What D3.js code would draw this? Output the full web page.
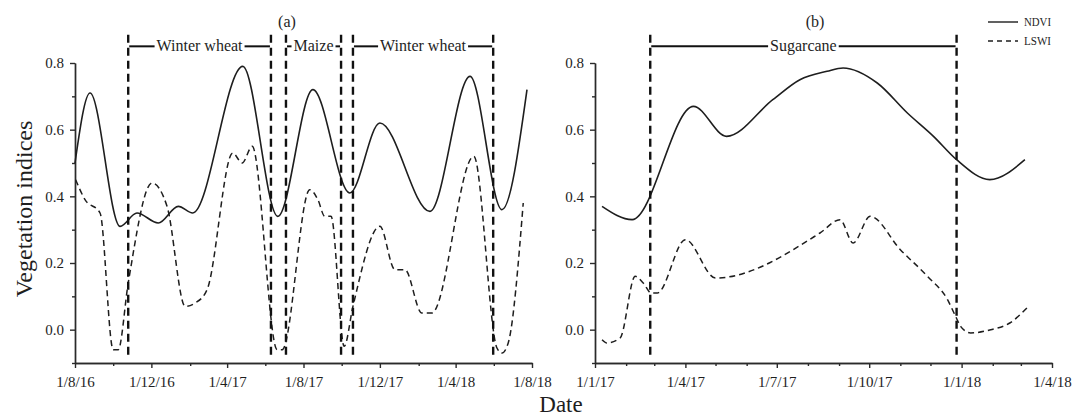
<!DOCTYPE html>
<html>
<head>
<meta charset="utf-8">
<script src="https://cdn.jsdelivr.net/npm/d3@7"></script>
<style>
  body { margin: 0; background: #fff; }
  text { font-family: "Liberation Serif", "Times New Roman", serif; fill: #1e1e1e; }
</style>
</head>
<body>
<div id="chart"></div>
<script>
// values (dates are yyyy-mm-dd)
// panel (a): winter wheat / maize rotation
const ndviADates = ["2016-08-01","2016-08-25","2016-10-12","2016-11-08","2016-12-12","2017-01-13","2017-02-05",
  "2017-04-26","2017-06-21","2017-08-16","2017-10-14","2017-12-01","2018-02-19","2018-04-24","2018-06-14","2018-07-24"];
const ndviAValues = [0.50,0.71,0.31,0.35,0.32,0.37,0.35,0.79,0.34,0.72,0.41,0.62,0.355,0.76,0.36,0.72];

const lswiADates = ["2016-08-02","2016-08-17","2016-09-10","2016-10-01","2016-10-09","2016-10-25","2016-12-02",
  "2016-12-26","2017-01-24","2017-02-09","2017-02-28","2017-04-10","2017-04-25","2017-05-11","2017-06-20",
  "2017-06-28","2017-08-11","2017-08-24","2017-09-04","2017-09-14","2017-10-05","2017-10-19","2017-12-01",
  "2017-12-25","2018-01-10","2018-02-06","2018-02-22","2018-04-30","2018-06-06","2018-06-14","2018-06-24","2018-07-18"];
const lswiAValues = [0.45,0.39,0.35,-0.06,-0.06,0.14,0.44,0.37,0.07,0.08,0.12,0.53,0.50,0.55,-0.06,
  -0.06,0.42,0.39,0.34,0.34,-0.05,0.07,0.31,0.18,0.18,0.05,0.05,0.52,-0.055,-0.07,-0.04,0.38];

// panel (b): sugarcane
const ndviBDates = ["2017-01-08","2017-02-07","2017-04-09","2017-05-12","2017-06-27","2017-07-24","2017-08-20",
  "2017-09-05","2017-10-09","2017-11-08","2017-12-04","2017-12-27","2018-01-29","2018-03-05"];
const ndviBValues = [0.37,0.33,0.67,0.58,0.69,0.75,0.775,0.785,0.74,0.65,0.58,0.51,0.45,0.51];

const lswiBDates = ["2017-01-08","2017-01-13","2017-01-26","2017-02-10","2017-02-18","2017-02-26","2017-03-04",
  "2017-04-01","2017-05-01","2017-08-13","2017-09-02","2017-09-15","2017-10-02","2017-11-01","2017-11-28",
  "2017-12-18","2017-12-26","2017-12-31","2018-01-10","2018-01-30","2018-02-18","2018-03-07"];
const lswiBValues = [-0.03,-0.04,-0.025,0.16,0.14,0.11,0.11,0.27,0.155,0.29,0.33,0.26,0.34,0.24,0.16,
  0.09,0.04,0.01,-0.01,0.0,0.02,0.065];

// growing periods (boundaries are the dashed vertical lines)
const periodsA = [
  { start: "2016-10-25", end: "2017-06-10", label: "Winter wheat" },
  { start: "2017-07-04", end: "2017-09-30", label: "Maize" },
  { start: "2017-10-19", end: "2018-05-31", label: "Winter wheat" }
];
const periodsB = [
  { start: "2017-02-25", end: "2017-12-27", label: "Sugarcane" }
];

// axis ticks
const yMajor = [0, 0.2, 0.4, 0.6, 0.8];
const yMinor = [-0.1, 0.1, 0.3, 0.5, 0.7];
const xMajorA = ["2016-08-01","2016-12-01","2017-04-01","2017-08-01","2017-12-01","2018-04-01","2018-08-01"];
const xMinorA = ["2016-10-01","2017-02-01","2017-06-01","2017-10-01","2018-02-01","2018-06-01"];
const xMajorB = ["2017-01-01","2017-04-01","2017-07-01","2017-10-01","2018-01-01","2018-04-01"];
const xMinorB = ["2017-02-01","2017-03-01","2017-05-01","2017-06-01","2017-08-01","2017-09-01",
  "2017-11-01","2017-12-01","2018-02-01","2018-03-01"];

const parse = d3.timeParse("%Y-%m-%d");
const fmt = d3.timeFormat("%-d/%-m/%y");

const W = 1077, H = 419;
const svg = d3.select("#chart").append("svg")
  .attr("width", W).attr("height", H);

// shared vertical scale
const y = d3.scaleLinear().domain([-0.1, 0.8]).range([363, 63]);

function drawPanel(opt) {
  const x = d3.scaleTime().domain([parse(opt.from), parse(opt.to)]).range(opt.range);
  const g = svg.append("g");

  // minor ticks first so majors sit on top
  g.append("g").attr("transform", `translate(0,${y(-0.1)})`)
    .call(d3.axisBottom(x).tickValues(opt.minor.map(parse)).tickFormat("").tickSize(3).tickSizeOuter(0));
  g.append("g").attr("transform", `translate(0,${y(-0.1)})`)
    .call(d3.axisBottom(x).tickValues(opt.major.map(parse)).tickFormat(fmt).tickSize(5).tickPadding(8).tickSizeOuter(0))
    .selectAll("text").style("font-size", "15px");

  g.append("g").attr("transform", `translate(${opt.range[0]},0)`)
    .call(d3.axisLeft(y).tickValues(yMinor).tickFormat("").tickSize(3).tickSizeOuter(0));
  g.append("g").attr("transform", `translate(${opt.range[0]},0)`)
    .call(d3.axisLeft(y).tickValues(yMajor).tickFormat(d3.format(".1f")).tickSize(5).tickPadding(6).tickSizeOuter(0))
    .selectAll("text").style("font-size", "15px");

  g.selectAll(".domain, .tick line").attr("stroke", "#2a2a2a").attr("stroke-width", 1.4);

  // curves
  const line = d3.line().x(d => x(d[0])).y(d => y(d[1])).curve(d3.curveMonotoneX);
  g.append("path")
    .datum(opt.ndviDates.map((d, i) => [parse(d), opt.ndvi[i]]))
    .attr("d", line).attr("fill", "none").attr("stroke", "#1e1e1e").attr("stroke-width", 1.6);
  g.append("path")
    .datum(opt.lswiDates.map((d, i) => [parse(d), opt.lswi[i]]))
    .attr("d", line).attr("fill", "none").attr("stroke", "#1e1e1e").attr("stroke-width", 1.5)
    .attr("stroke-dasharray", "6,4");

  // period boundaries and labels
  const bounds = [];
  opt.periods.forEach(p => { bounds.push(p.start, p.end); });
  g.selectAll(".vline").data(bounds).enter().append("line")
    .attr("x1", d => x(parse(d))).attr("x2", d => x(parse(d)))
    .attr("y1", y(0.885)).attr("y2", y(-0.075))
    .attr("stroke", "#111").attr("stroke-width", 2.4).attr("stroke-dasharray", "8,5");

  const by = y(0.85);
  opt.periods.forEach(p => {
    const x0 = x(parse(p.start)), x1 = x(parse(p.end));
    const t = g.append("text").attr("x", (x0 + x1) / 2).attr("y", by + 5)
      .attr("text-anchor", "middle").style("font-size", "16px").text(p.label);
    const tw = t.node().getComputedTextLength();
    const left = (x0 + x1) / 2 - tw / 2 - 2, right = (x0 + x1) / 2 + tw / 2 + 2;
    g.append("line").attr("x1", x0 + 1).attr("x2", Math.max(x0 + 2, left)).attr("y1", by).attr("y2", by)
      .attr("stroke", "#111").attr("stroke-width", 2);
    g.append("line").attr("x1", Math.min(x1 - 2, right)).attr("x2", x1 - 1).attr("y1", by).attr("y2", by)
      .attr("stroke", "#111").attr("stroke-width", 2);
  });

  g.append("text").attr("x", opt.titleX).attr("y", 27)
    .attr("text-anchor", "middle").style("font-size", "16px").text(opt.title);
}

drawPanel({
  from: "2016-08-01", to: "2018-08-01", range: [75, 532],
  major: xMajorA, minor: xMinorA,
  ndviDates: ndviADates, ndvi: ndviAValues, lswiDates: lswiADates, lswi: lswiAValues,
  periods: periodsA, title: "(a)", titleX: 287
});
drawPanel({
  from: "2017-01-01", to: "2018-04-01", range: [595, 1052],
  major: xMajorB, minor: xMinorB,
  ndviDates: ndviBDates, ndvi: ndviBValues, lswiDates: lswiBDates, lswi: lswiBValues,
  periods: periodsB, title: "(b)", titleX: 815
});

// axis titles
svg.append("text").attr("transform", "translate(32,209) rotate(-90)")
  .attr("text-anchor", "middle").style("font-size", "24px").text("Vegetation indices");
svg.append("text").attr("x", 561).attr("y", 412)
  .attr("text-anchor", "middle").style("font-size", "23px").text("Date");

// legend
const legend = svg.append("g").attr("transform", "translate(988,22)");
const legendItems = [{ name: "NDVI", dash: null }, { name: "LSWI", dash: "5,4" }];
legendItems.forEach((it, i) => {
  legend.append("line").attr("x1", 0).attr("x2", 30).attr("y1", i * 19).attr("y2", i * 19)
    .attr("stroke", "#1e1e1e").attr("stroke-width", 1.4).attr("stroke-dasharray", it.dash);
  legend.append("text").attr("x", 36).attr("y", i * 19 + 4)
    .attr("textLength", 27).attr("lengthAdjust", "spacingAndGlyphs")
    .style("font-size", "12px").text(it.name);
});
</script>
</body>
</html>
